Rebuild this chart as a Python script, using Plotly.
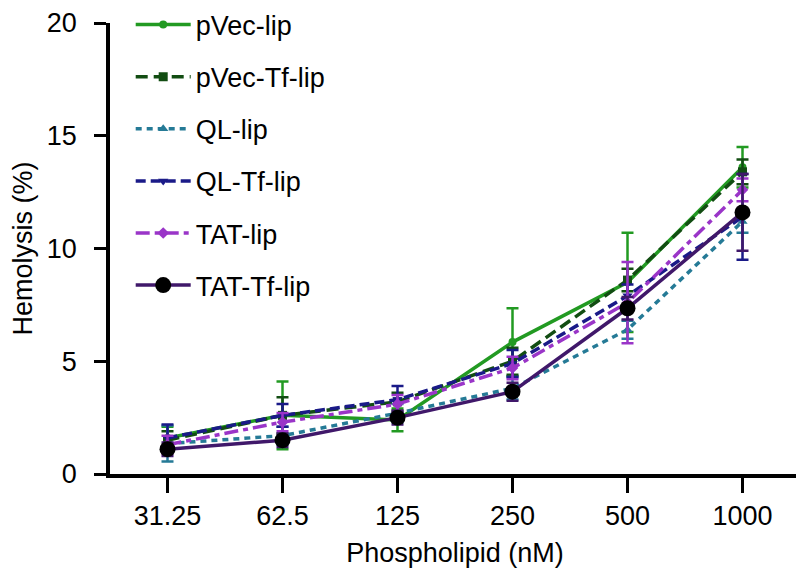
import plotly.graph_objects as go

categories = ["31.25", "62.5", "125", "250", "500", "1000"]

names = ["pVec-lip", "pVec-Tf-lip", "QL-lip", "QL-Tf-lip", "TAT-lip", "TAT-Tf-lip"]

pvec_lip = [1.6, 2.6, 2.4, 5.85, 8.5, 13.6]
pvec_lip_err = [0.5, 1.5, 0.5, 1.5, 2.2, 0.9]

pvec_tf_lip = [1.5, 2.6, 3.2, 5.0, 8.6, 13.4]
pvec_tf_lip_err = [0.4, 0.8, 0.4, 0.6, 0.5, 0.55]

ql_lip = [1.35, 1.7, 2.7, 3.8, 6.4, 11.2]
ql_lip_err = [0.8, 0.4, 0.4, 0.5, 0.4, 0.5]

ql_tf_lip = [1.6, 2.6, 3.3, 4.9, 7.9, 11.4]
ql_tf_lip_err = [0.6, 0.5, 0.6, 0.6, 0.5, 1.9]

tat_lip = [1.3, 2.3, 3.1, 4.7, 7.6, 12.6]
tat_lip_err = [0.4, 0.4, 0.4, 0.5, 1.8, 0.5]

tat_tf_lip = [1.1, 1.5, 2.5, 3.65, 7.35, 11.6]
tat_tf_lip_err = [0.3, 0.3, 0.3, 0.4, 0.5, 1.7]

series = [pvec_lip, pvec_tf_lip, ql_lip, ql_tf_lip, tat_lip, tat_tf_lip]
errors = [pvec_lip_err, pvec_tf_lip_err, ql_lip_err, ql_tf_lip_err, tat_lip_err, tat_tf_lip_err]

colors = ["#229a22", "#124d12", "#257a96", "#1a1a88", "#9a35c8", "#40186a"]
marker_colors = ["#229a22", "#124d12", "#257a96", "#1a1a88", "#9a35c8", "#000000"]
dashes = ["solid", "12px,6px", "6px,5px", "10px,5px", "14px,5px,5px,5px", "solid"]
symbols = ["circle", "square", "triangle-up", "triangle-down", "diamond", "circle"]
sizes = [8, 9, 9, 9, 9, 16]

FONT = "Liberation Sans, Arial, sans-serif"

fig = go.Figure()
for i in range(len(names)):
    fig.add_trace(go.Scatter(
        x=categories, y=series[i], name=names[i], mode="lines+markers",
        legendgroup=names[i],
        line=dict(color=colors[i], width=3.5, dash=dashes[i]),
        marker=dict(color=marker_colors[i], symbol=symbols[i], size=sizes[i]),
        error_y=dict(type="data", array=errors[i], color=colors[i], thickness=2.5, width=6),
        cliponaxis=False,
    ))

fig.update_layout(
    width=804, height=576,
    margin=dict(l=102, r=12, t=15, b=110, autoexpand=False),
    paper_bgcolor="white", plot_bgcolor="white",
    font=dict(family=FONT, size=27, color="black"),
    showlegend=True,
    legend=dict(x=0.030, y=1.0498, xanchor="left", yanchor="top",
                font=dict(size=27), bgcolor="rgba(0,0,0,0)",
                tracegroupgap=14, itemwidth=55),
    xaxis=dict(
        type="category", range=[-0.5, 5.5], automargin=False,
        showline=True, linecolor="black", linewidth=3.5,
        ticks="outside", ticklen=15, tickwidth=3, tickcolor="black",
        showgrid=False, zeroline=False,
        title=dict(text="Phospholipid (nM)", font=dict(size=27), standoff=14),
        tickfont=dict(size=27),
    ),
    yaxis=dict(
        range=[0, 20], tickvals=[0, 5, 10, 15, 20], automargin=False,
        showline=True, linecolor="black", linewidth=3.5,
        ticks="outside", ticklen=12, tickwidth=3, tickcolor="black",
        showgrid=False, zeroline=False,
        ticklabeloverflow="allow",
        title=dict(text="Hemolysis (%)", font=dict(size=27), standoff=12),
        tickfont=dict(size=27),
    ),
)

try:
    fig.update_layout(legend_maxheight=500)
except Exception:
    pass

try:
    fig.update_yaxes(ticklabelstandoff=12)
except Exception:
    pass

fig.write_html("out.html")
